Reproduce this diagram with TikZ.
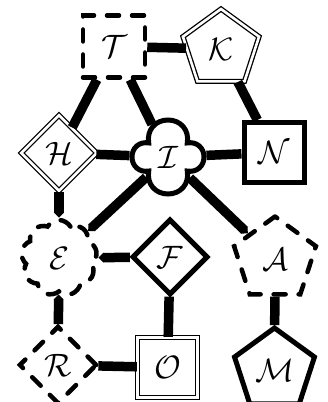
\documentclass[tikz,border=0pt]{standalone}
\usetikzlibrary{shapes.geometric,shapes.symbols,arrows.meta}
\newcommand{\lbl}[1]{\scalebox{1.3}{$\mathcal{#1}$}}
\begin{document}
\begin{tikzpicture}[x=1pt,y=1pt,
 every node/.style={inner sep=0pt, font=\Huge},
 thickb/.style={draw, line width=5pt},
 dashb/.style={draw, line width=4.5pt, dash pattern=on 12pt off 13pt, line cap=round},
 dblb/.style={draw, line width=1.3pt, double, double distance=2.6pt},
 conn/.style={line width=9.5pt},
 tipe/.style={-{Triangle[width=9.5pt,length=5pt]}}
]
\useasboundingbox (0,0) rectangle (328,402);
\node[dashb, rectangle, minimum size=62pt] (T) at (114,355.5) {\lbl{T}};
\node[dblb, regular polygon, regular polygon sides=5, minimum size=80pt] (K) at (221,353) {\lbl{K}};
\node[dblb, diamond, minimum size=76pt] (H) at (59,249) {\lbl{H}};
\node[thickb, cloud, cloud puffs=4, cloud puff arc=200, minimum width=72pt, minimum height=74pt] (I) at (168,245) {\lbl{I}};
\node[thickb, rectangle, minimum size=60pt] (N) at (274,249.5) {\lbl{N}};
\node[dashb, cloud, cloud puffs=9, cloud puff arc=120, minimum width=76pt, minimum height=76pt] (E) at (59,144) {\lbl{E}};
\node[thickb, diamond, minimum size=76pt] (F) at (170,145) {\lbl{F}};
\node[dashb, regular polygon, regular polygon sides=5, minimum size=86pt] (A) at (275,142.5) {\lbl{A}};
\node[dashb, diamond, minimum size=78pt] (R) at (58,37) {\lbl{R}};
\node[dblb, rectangle, minimum size=60pt] (O) at (167.5,34.5) {\lbl{O}};
\node[thickb, regular polygon, regular polygon sides=5, minimum size=84pt] (M) at (274.5,32) {\lbl{M}};
\draw[conn] (T) -- (K);
\draw[conn] (T) -- (H);
\draw[conn] (T) -- (I);
\draw[conn] (K) -- (N);
\draw[conn] (H) -- (I);
\draw[conn] (I) -- (N);
\draw[conn,tipe] (H) -- (E);
\draw[conn,tipe] (I) -- (E);
\draw[conn,tipe] (I) -- (A);
\draw[conn,tipe] (F) -- (E);
\draw[conn] (F) -- (O);
\draw[conn] (A) -- (M);
\draw[conn,tipe] (R) -- (E);
\draw[conn] (O) -- (R);
\end{tikzpicture}
\end{document}
